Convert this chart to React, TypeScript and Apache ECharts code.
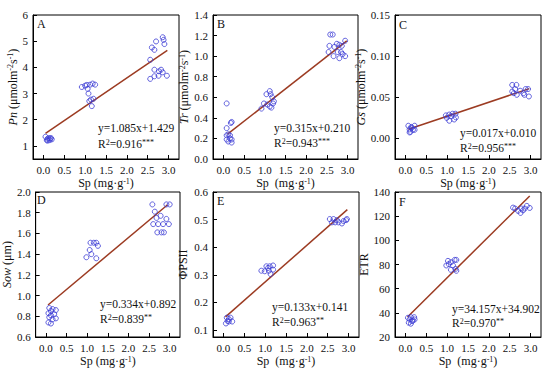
import React, { useEffect, useRef } from 'react';
import * as echarts from 'echarts';

const FONT = '"Liberation Serif", "Times New Roman", serif';
const POINT_COLOR = '#3c3cd4';
const LINE_COLOR = '#9c3b22';

const panelLetters = ['A', 'B', 'C', 'D', 'E', 'F'];

const pnPoints = [
  [0.05, 1.35], [0.08, 1.22], [0.1, 1.27], [0.12, 1.3], [0.15, 1.22], [0.18, 1.3], [0.2, 1.25], [0.1, 1.2], [0.16, 1.28],
  [0.92, 3.25], [1.0, 3.3], [1.06, 3.18], [1.12, 3.34], [1.18, 3.38], [1.24, 3.34], [1.08, 3.0], [1.1, 2.71], [1.14, 2.77], [1.16, 2.52], [1.2, 2.8], [1.04, 3.33],
  [2.86, 5.15], [2.88, 5.05], [2.9, 4.89], [2.7, 4.99], [2.6, 4.76], [2.66, 4.67], [2.56, 4.29], [2.66, 3.91], [2.77, 3.85], [2.82, 3.91], [2.56, 3.56], [2.66, 3.66], [2.76, 3.68], [2.96, 3.68], [2.86, 3.81],
];
const trPoints = [
  [0.08, 0.54], [0.08, 0.3], [0.18, 0.35], [0.2, 0.36], [0.12, 0.24], [0.08, 0.19], [0.16, 0.23], [0.2, 0.19], [0.12, 0.17], [0.2, 0.16], [0.08, 0.23], [0.16, 0.2],
  [0.92, 0.49], [0.98, 0.54], [1.04, 0.63], [1.12, 0.66], [1.14, 0.63], [1.18, 0.6], [1.2, 0.54], [1.12, 0.51], [1.16, 0.5], [1.06, 0.53], [1.22, 0.56],
  [2.58, 1.21], [2.64, 1.21], [2.56, 1.1], [2.68, 1.09], [2.74, 1.12], [2.8, 1.11], [2.54, 1.04], [2.66, 1.0], [2.76, 1.04], [2.84, 1.04], [2.88, 1.02], [2.8, 0.98], [2.94, 1.0], [2.94, 1.15], [2.86, 1.1],
];
const gsPoints = [
  [0.07, 0.0154], [0.14, 0.014], [0.22, 0.0154], [0.1, 0.011], [0.18, 0.0105], [0.12, 0.008], [0.22, 0.0105], [0.15, 0.013], [0.1, 0.0073],
  [0.97, 0.028], [1.05, 0.029], [1.13, 0.03], [1.2, 0.03], [1.09, 0.027], [1.21, 0.0255], [1.05, 0.0215], [1.17, 0.023], [0.99, 0.025],
  [2.56, 0.065], [2.66, 0.065], [2.63, 0.06], [2.56, 0.057], [2.67, 0.053], [2.75, 0.058], [2.83, 0.055], [2.85, 0.053], [2.88, 0.06], [2.94, 0.06], [2.96, 0.051], [2.6, 0.055],
];
const sowPoints = [
  [0.08, 0.88], [0.16, 0.87], [0.12, 0.85], [0.24, 0.86], [0.06, 0.83], [0.2, 0.82], [0.12, 0.81], [0.08, 0.79], [0.24, 0.78], [0.16, 0.77], [0.06, 0.74], [0.12, 0.73],
  [0.98, 1.37], [1.06, 1.44], [1.1, 1.4], [1.22, 1.36], [1.08, 1.51], [1.16, 1.51], [1.22, 1.51], [1.26, 1.48],
  [2.58, 1.88], [2.64, 1.81], [2.6, 1.69], [2.72, 1.69], [2.68, 1.75], [2.78, 1.77], [2.7, 1.61], [2.8, 1.61], [2.86, 1.61], [2.84, 1.69], [2.92, 1.74], [2.98, 1.69], [2.92, 1.88], [3.0, 1.88],
];
const phiPoints = [
  [0.08, 0.145], [0.13, 0.14], [0.17, 0.145], [0.06, 0.124], [0.13, 0.131], [0.21, 0.131], [0.1, 0.133],
  [0.91, 0.315], [0.99, 0.313], [1.03, 0.331], [1.11, 0.331], [1.19, 0.334], [1.09, 0.315], [1.13, 0.303], [1.19, 0.319], [1.07, 0.325],
  [2.55, 0.502], [2.64, 0.502], [2.72, 0.498], [2.6, 0.49], [2.76, 0.49], [2.84, 0.486], [2.88, 0.495], [2.94, 0.498], [2.96, 0.502], [2.68, 0.49],
];
const etrPoints = [
  [0.06, 35.9], [0.13, 36.4], [0.21, 36.4], [0.1, 34.5], [0.18, 33.7], [0.22, 34.5], [0.08, 31.8], [0.13, 31], [0.16, 33.2],
  [0.98, 79.2], [1.04, 80.3], [1.09, 81.9], [1.18, 83.8], [1.22, 83.8], [1.14, 79.2], [1.09, 75.6], [1.2, 76.4], [1.22, 74.8], [1.02, 83],
  [2.58, 127.1], [2.63, 126.3], [2.7, 124.4], [2.76, 122.7], [2.82, 124.9], [2.86, 126.3], [2.91, 128.5], [2.98, 126.8], [2.78, 126.3],
];
const allPoints = [pnPoints, trPoints, gsPoints, sowPoints, phiPoints, etrPoints];

// regression: slope, intercept, x start, x end
const fitSlopes = [1.085, 0.315, 0.017, 0.334, 0.133, 34.157];
const fitIntercepts = [1.429, 0.21, 0.01, 0.892, 0.141, 34.902];
const fitStarts = [0.05, 0.1, 0.07, 0.05, 0.05, 0.05];
const fitEnds = [2.97, 2.98, 2.97, 2.95, 2.97, 2.98];

const equations = ['y=1.085x+1.429', 'y=0.315x+0.210', 'y=0.017x+0.010', 'y=0.334x+0.892', 'y=0.133x+0.141', 'y=34.157x+34.902'];
const r2Values = ['0.916', '0.943', '0.956', '0.839', '0.963', '0.970'];
const r2Stars = ['***', '***', '***', '**', '**', '**'];

const yNames = [
  '{i|Pn} (μmolm{s|-2}s{s|-1})',
  '{i|Tr} (μmolm{s|-2}s{s|-1})',
  '{i|Gs} (μmolm{s|-2}s{s|-1})',
  '{i|Sow} (μm)',
  'ΦPSII',
  'ETR',
];
const xNames = ['Sp (mg·g{s|-1})', 'Sp  (mg·g{s|-1})', 'Sp (mg·g{s|-1})', 'Sp (mg·g{s|-1})', 'Sp  (mg·g{s|-1})', 'Sp  (mg·g{s|-1})'];

// axis ranges and tick values
const xMin = -0.25;
const xMax = 3.25;
const xTicks = [0, 0.5, 1.0, 1.5, 2.0, 2.5, 3.0];
const yMins = [0.5, 0, -0.025, 0.6, 0.075, 20];
const yMaxs = [6, 1.4, 0.15, 2.0, 0.6, 140];
const yTicks = [
  [1, 2, 3, 4, 5, 6],
  [0, 0.2, 0.4, 0.6, 0.8, 1.0, 1.2, 1.4],
  [0, 0.05, 0.1, 0.15],
  [0.6, 0.8, 1.0, 1.2, 1.4, 1.6, 1.8, 2.0],
  [0.1, 0.2, 0.3, 0.4, 0.5, 0.6],
  [20, 40, 60, 80, 100, 120, 140],
];
const yDecimals = [0, 1, 2, 1, 1, 0];

// layout (pixels)
const gridBoxes = [
  { left: 33, top: 15, width: 146, height: 144 },
  { left: 213, top: 15, width: 145, height: 144 },
  { left: 395, top: 15, width: 146, height: 144 },
  { left: 33, top: 192, width: 147, height: 145 },
  { left: 213, top: 192, width: 146, height: 145 },
  { left: 395, top: 192, width: 146, height: 145 },
];
const yNameGaps = [14, 21, 25, 20, 24, 22];
const letterPos = [[37, 24], [217, 24], [399, 25], [37, 200], [217, 201], [399, 202]];
const eqPos = [[98, 128, 144], [274, 128, 143], [460, 133, 148], [100, 304, 319], [272, 307, 322], [452, 309, 323]];

function buildOption() {
  const grid: any[] = [];
  const xAxis: any[] = [];
  const yAxis: any[] = [];
  const series: any[] = [];
  const graphic: any[] = [];
  const supRich = { fontSize: 8, verticalAlign: 'top', fontFamily: FONT, color: '#111' };

  allPoints.forEach((pts, i) => {
    const g = gridBoxes[i];
    grid.push({ ...g, show: true, borderColor: '#000', borderWidth: 1, backgroundColor: 'transparent', containLabel: false });
    xAxis.push({
      gridIndex: i,
      type: 'value',
      min: xMin,
      max: xMax,
      axisLine: { show: true, onZero: false, lineStyle: { color: '#000', width: 1 } },
      axisTick: { show: true, inside: true, length: 4, customValues: xTicks, lineStyle: { color: '#000' } },
      axisLabel: {
        color: '#111', fontFamily: FONT, fontSize: 11, margin: 5,
        customValues: xTicks,
        formatter: (v: number) => (Math.abs(v) < 1e-9 ? 0 : v).toFixed(1),
      },
      splitLine: { show: false },
      name: xNames[i],
      nameLocation: 'middle',
      nameGap: 18,
      nameTextStyle: { color: '#111', fontFamily: FONT, fontSize: 12, rich: { s: supRich } },
    });
    yAxis.push({
      gridIndex: i,
      type: 'value',
      min: yMins[i],
      max: yMaxs[i],
      axisLine: { show: true, onZero: false, lineStyle: { color: '#000', width: 1 } },
      axisTick: { show: true, inside: true, length: 4, customValues: yTicks[i], lineStyle: { color: '#000' } },
      axisLabel: {
        color: '#111', fontFamily: FONT, fontSize: 11, margin: 5,
        customValues: yTicks[i],
        formatter: (v: number) => (Math.abs(v) < 1e-9 ? 0 : v).toFixed(yDecimals[i]),
      },
      splitLine: { show: false },
      name: yNames[i],
      nameLocation: 'middle',
      nameGap: yNameGaps[i],
      nameRotate: 90,
      nameTextStyle: {
        color: '#111', fontFamily: FONT, fontSize: 12,
        rich: { s: supRich, i: { fontStyle: 'italic', fontFamily: FONT, fontSize: 12, color: '#111' } },
      },
    });

    series.push({
      type: 'scatter',
      xAxisIndex: i,
      yAxisIndex: i,
      data: pts,
      symbol: 'circle',
      symbolSize: 5,
      itemStyle: { color: 'rgba(255,255,255,0)', borderColor: POINT_COLOR, borderWidth: 1 },
      z: 3,
    });
    const a = fitSlopes[i];
    const b = fitIntercepts[i];
    series.push({
      type: 'line',
      xAxisIndex: i,
      yAxisIndex: i,
      data: [[fitStarts[i], a * fitStarts[i] + b], [fitEnds[i], a * fitEnds[i] + b]],
      symbol: 'none',
      lineStyle: { color: LINE_COLOR, width: 1.5 },
      z: 2,
    });

    graphic.push({
      type: 'text', x: letterPos[i][0], y: letterPos[i][1],
      style: { text: panelLetters[i], fontFamily: FONT, fontSize: 12, fill: '#111', verticalAlign: 'middle' },
    });
    const sup = { fontSize: 8, verticalAlign: 'top', fontFamily: FONT, fill: '#111' };
    graphic.push({
      type: 'text', x: eqPos[i][0], y: eqPos[i][1],
      style: { text: equations[i], fontFamily: FONT, fontSize: 11.5, fill: '#111', verticalAlign: 'middle' },
    });
    graphic.push({
      type: 'text', x: eqPos[i][0], y: eqPos[i][2],
      style: {
        text: `R{s|2}=${r2Values[i]}{s|${r2Stars[i]}}`,
        fontFamily: FONT, fontSize: 11.5, fill: '#111', verticalAlign: 'middle',
        rich: { s: sup },
      },
    });
  });

  return { animation: false, backgroundColor: '#fff', grid, xAxis, yAxis, series, graphic };
}

export default function App() {
  const ref = useRef<HTMLDivElement>(null);
  useEffect(() => {
    document.body.style.margin = '0';
    if (!ref.current) return;
    const chart = echarts.init(ref.current, undefined, { renderer: 'svg' });
    chart.setOption(buildOption());
    return () => chart.dispose();
  }, []);
  return <div ref={ref} style={{ width: 550, height: 377 }} />;
}
